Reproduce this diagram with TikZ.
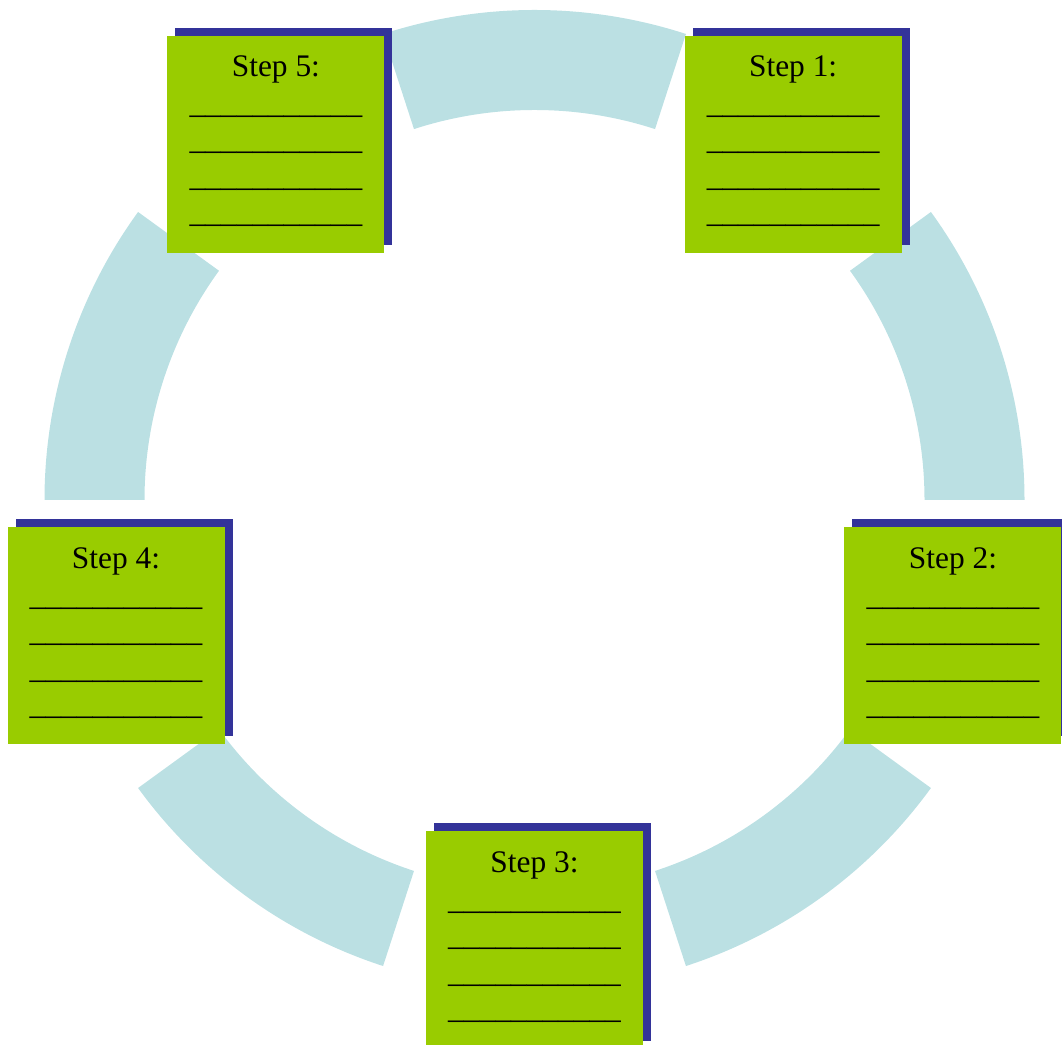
\documentclass[tikz,border=0pt]{standalone}
\usepackage{fontspec}
\setmainfont{Liberation Serif}
\definecolor{ringc}{HTML}{BBE0E3}
\definecolor{boxg}{HTML}{99CC00}
\definecolor{boxb}{HTML}{333399}
\begin{document}
\begin{tikzpicture}[x=1pt,y=1pt,
  stepbox/.style={fill=boxg, minimum size=217pt, inner sep=0pt, outer sep=0pt},
  shadowbox/.style={fill=boxb, minimum size=217pt, inner sep=0pt, outer sep=0pt},
  steptxt/.style={font=\fontsize{31.4}{36}\selectfont, inner sep=0pt, anchor=base},
  ringseg/.style={fill=ringc}]
\useasboundingbox (0,0) rectangle (1062,1044);
\coordinate (c) at (534.5,544);
\foreach \a in {0,72,144,216,288}{
  \fill[ringseg] ([shift={(\a:490pt)}]c) arc[start angle=\a, delta angle=36, radius=490pt]
    -- ([shift={(\a+36:390pt)}]c) arc[start angle=\a+36, delta angle=-36, radius=390pt] -- cycle;
}
\foreach \n/\a in {1/54,2/342,3/270,4/198,5/126}{
  \node[shadowbox] (s\n) at ([shift={(\a:440pt)},xshift=8pt,yshift=8pt]c) {};
  \node[stepbox] (b\n) at ([shift={(\a:440pt)}]c) {};
  \node[steptxt] (t\n) at ([yshift=-41pt]b\n.north) {Step \n:};
  \foreach \k in {1,...,4}{
    \node[steptxt] (l\n\k) at ([yshift={-41pt-36.6pt*\k}]b\n.north) {\_\_\_\_\_\_\_\_\_\_\_};
  }
}
\end{tikzpicture}
\end{document}
